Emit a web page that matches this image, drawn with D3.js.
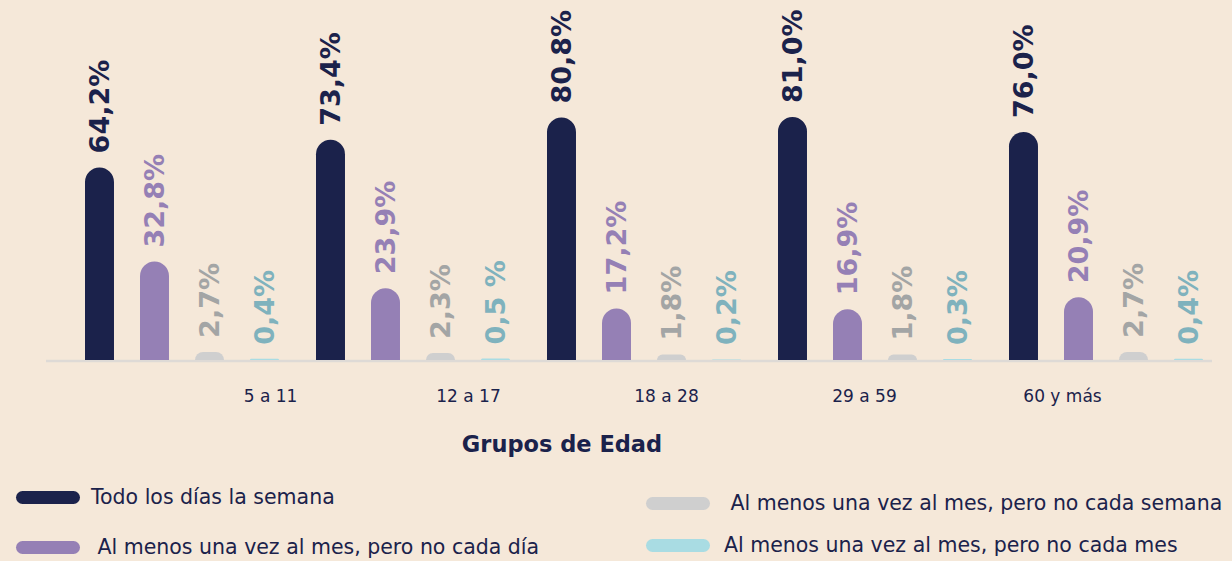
<!DOCTYPE html>
<html>
<head>
<meta charset="utf-8">
<script src="https://cdn.jsdelivr.net/npm/d3@7"></script>
<style>
  body { margin: 0; background: #f5e8d9; }
  svg { display: block; font-family: "DejaVu Sans", sans-serif; }
  .legend text { white-space: pre; }
</style>
</head>
<body>
<svg id="chart" width="1232" height="561"></svg>
<script>
// age groups and the four frequency series (percent)
const groups = ["5 a 11", "12 a 17", "18 a 28", "29 a 59", "60 y más"];
const series = ["Todo los días la semana", " Al menos una vez al mes, pero no cada día",
                " Al menos una vez al mes, pero no cada semana", "Al menos una vez al mes, pero no cada mes"];
const diario  = [64.2, 73.4, 80.8, 81.0, 76.0];
const noDia   = [32.8, 23.9, 17.2, 16.9, 20.9];
const noSem   = [2.7, 2.3, 1.8, 1.8, 2.7];
const noMes   = [0.4, 0.5, 0.2, 0.3, 0.4];
const labels  = [
  ["64,2%", "73,4%", "80,8%", "81,0%", "76,0%"],
  ["32,8%", "23,9%", "17,2%", "16,9%", "20,9%"],
  ["2,7%", "2,3%", "1,8%", "1,8%", "2,7%"],
  ["0,4%", "0,5 %", "0,2%", "0,3%", "0,4%"]
];
const values = [diario, noDia, noSem, noMes];

const barColors   = ["#1b224b", "#9580b5", "#cfcfcf", "#a9dce3"];
const labelColors = ["#1b224b", "#9580b5", "#a3a5a5", "#7fb2bd"];

const svg = d3.select("#chart");
svg.append("rect").attr("width", 1232).attr("height", 561).attr("fill", "#f5e8d9");

const baseY = 360;
const y = d3.scaleLinear().domain([0, 100]).range([baseY, 60]);

// groups: band scale, then one inner band per series
const x0 = d3.scaleBand().domain(groups).range([85, 85 + 5 * 231]);
const x1 = d3.scaleBand().domain(d3.range(4)).range([0, 194]).paddingInner(0.473);
const bw = x1.bandwidth();

// baseline
svg.append("line")
  .attr("x1", 46).attr("x2", 1212)
  .attr("y1", baseY + 1).attr("y2", baseY + 1)
  .attr("stroke", "#dedad6").attr("stroke-width", 2.5);

function topRounded(x, yt, w, h) {
  const r = Math.min(w / 2, h);
  return `M${x},${yt + h}V${yt + r}A${r},${r} 0 0 1 ${x + r},${yt}H${x + w - r}` +
         `A${r},${r} 0 0 1 ${x + w},${yt + r}V${yt + h}Z`;
}

const cells = [];
groups.forEach((g, gi) => {
  values.forEach((vals, si) => {
    cells.push({ g, gi, si, v: vals[gi], label: labels[si][gi] });
  });
});

svg.append("g").selectAll("path")
  .data(cells)
  .join("path")
  .attr("d", d => {
    const h = baseY - y(d.v);
    return topRounded(x0(d.g) + x1(d.si), y(d.v), bw, h);
  })
  .attr("fill", d => barColors[d.si]);

// rotated value labels
svg.append("g").selectAll("text")
  .data(cells)
  .join("text")
  .attr("transform", d => {
    const cx = x0(d.g) + x1(d.si) + bw / 2;
    const ly = Math.min(y(d.v) - 14, 345);
    return `translate(${cx},${ly}) rotate(-90)`;
  })
  .attr("dy", "0.36em")
  .attr("font-size", 27)
  .attr("font-weight", "bold")
  .attr("fill", d => labelColors[d.si])
  .text(d => d.label);

// category axis (labels sit on their own, offset scale)
const xt = d3.scalePoint().domain(groups).range([270, 1062]);
const axis = svg.append("g")
  .attr("transform", `translate(0,${baseY + 36})`)
  .call(d3.axisBottom(xt).tickSize(0).tickPadding(0));
axis.select(".domain").remove();
axis.selectAll("text")
  .attr("font-family", "DejaVu Sans, sans-serif")
  .attr("font-size", 17)
  .attr("fill", "#1b224b")
  .attr("dy", "0.35em");

svg.append("text")
  .attr("x", 562).attr("y", 452)
  .attr("text-anchor", "middle")
  .attr("font-size", 22.5)
  .attr("font-weight", "bold")
  .attr("fill", "#1b224b")
  .text("Grupos de Edad");

// legend
const legendPos = [
  { sx: 16, ty: 497, tx: 91 },
  { sx: 16, ty: 547, tx: 91 },
  { sx: 646, ty: 503, tx: 724 },
  { sx: 646, ty: 545, tx: 724 }
];
const legend = svg.append("g").attr("class", "legend")
  .selectAll("g")
  .data(series)
  .join("g");
legend.append("rect")
  .attr("x", (d, i) => legendPos[i].sx)
  .attr("y", (d, i) => legendPos[i].ty - 6)
  .attr("width", 64).attr("height", 13).attr("rx", 6.5)
  .attr("fill", (d, i) => barColors[i]);
legend.append("text")
  .attr("x", (d, i) => legendPos[i].tx)
  .attr("y", (d, i) => legendPos[i].ty)
  .attr("dy", "0.35em")
  .attr("font-size", 20.5)
  .attr("fill", "#1b224b")
  .text(d => d);
</script>
</body>
</html>
